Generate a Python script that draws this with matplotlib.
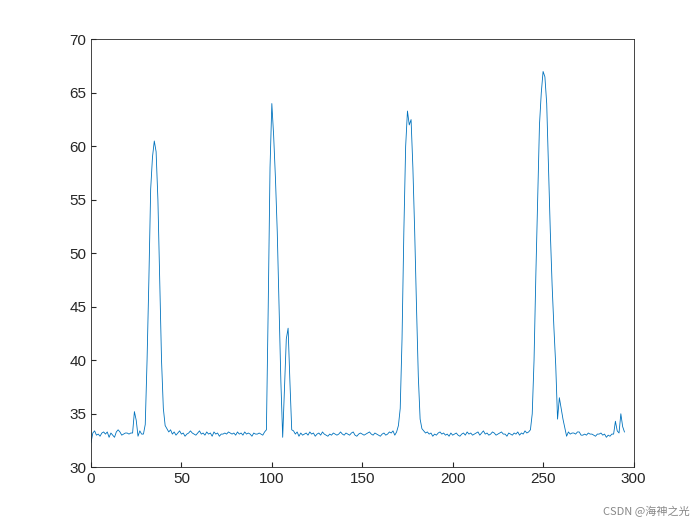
import matplotlib
matplotlib.use("Agg")
import matplotlib.pyplot as plt

seg_a = [32.3, 33.2, 33.4, 33.0, 33.1, 32.9, 33.2, 33.3, 33.1, 33.3, 32.8, 33.2, 33.0, 32.8, 33.3, 33.5, 33.3, 33.0, 33.1, 33.2, 33.2, 33.1, 33.2, 33.2, 35.2, 34.4, 32.9, 33.4, 33.1, 33.1]
peak1 = [34.0, 40.0, 47.5, 56.0, 59.0, 60.5, 59.5, 55.0, 47.5, 40.0, 35.5, 33.9]
seg_b = [33.6, 33.3, 33.5, 33.1, 33.3, 33.0, 33.2, 33.4, 33.1, 33.2, 32.9, 33.1, 33.2, 33.4, 33.2, 33.1, 33.0, 33.2, 33.4, 33.1, 33.2, 33.0, 33.3, 33.1, 33.2, 32.9, 33.3, 33.1, 33.2, 32.9, 33.1, 33.1, 33.2, 33.1, 33.3, 33.2, 33.1, 33.2, 33.0, 33.3, 33.1, 33.2, 33.0, 33.3, 33.1, 33.2, 33.1, 32.9, 33.2, 33.1, 33.1, 33.2, 33.1, 33.0, 33.3]
peak2 = [33.5, 45.0, 58.0, 64.0, 61.0, 57.0, 52.0, 45.0, 38.0, 32.8, 37.5, 42.0, 43.0, 38.0, 33.5]
seg_c = [33.4, 33.1, 33.3, 32.9, 33.2, 33.0, 33.1, 33.2, 33.0, 33.3, 33.1, 33.2, 32.9, 33.1, 33.2, 33.0, 33.3, 33.1, 33.0, 32.9, 33.1, 33.0, 33.2, 33.1, 33.0, 33.1, 33.3, 33.1, 33.0, 33.2, 33.1, 33.0, 33.2, 33.3, 33.0, 32.9, 33.1, 33.2, 33.1, 33.0, 33.1, 33.2, 33.3, 33.1, 33.0, 33.2, 33.1, 33.0, 32.9, 33.1, 33.2, 33.0, 33.1, 33.3, 33.2, 33.4, 33.0, 33.3]
peak3 = [33.9, 35.5, 42.0, 52.0, 60.0, 63.3, 62.0, 62.5, 58.0, 52.0, 45.0, 38.5, 34.5, 33.6]
seg_d = [33.4, 33.2, 33.3, 33.1, 33.2, 32.9, 33.1, 33.0, 33.2, 33.3, 33.1, 33.2, 33.0, 33.1, 32.9, 33.2, 33.0, 33.1, 33.2, 33.0, 32.9, 33.1, 33.2, 33.0, 33.3, 33.1, 33.2, 33.0, 33.1, 33.2, 33.3, 33.0, 33.2, 33.4, 33.1, 33.2, 33.0, 33.1, 33.3, 33.2, 33.0, 33.1, 33.2, 33.3, 33.1, 33.1, 32.9, 33.2, 33.1, 33.0, 33.2, 33.1, 33.3, 33.0, 33.2, 33.1, 33.4, 33.2, 33.3]
peak4 = [33.5, 35.0, 40.0, 48.0, 55.0, 62.0, 65.0, 67.0, 66.5, 64.0, 58.0, 52.0, 47.0, 43.0, 39.5, 34.5, 36.5, 35.5, 34.5, 33.7]
seg_e = [32.9, 33.3, 33.1, 33.2, 33.2, 33.1, 33.3, 33.3, 33.0, 33.0, 33.1, 33.0, 33.2, 33.1, 33.1, 33.0, 32.9, 33.1, 33.1, 33.2, 33.0, 33.1, 32.8, 33.0, 32.9, 33.1, 33.1, 34.3, 33.4, 33.2, 35.0, 33.8, 33.3]

y = seg_a + peak1 + seg_b + peak2 + seg_c + peak3 + seg_d + peak4 + seg_e
x = list(range(len(y)))

plt.rcParams['font.family'] = ['Liberation Sans', 'DejaVu Sans']
fig = plt.figure(figsize=(7, 5.25), dpi=100)
ax = fig.add_axes([0.13, 0.11, 0.775, 0.815])
ax.plot(x, y, color="#0072BD", linewidth=0.6)
ax.set_xlim(0, 300)
ax.set_ylim(30, 70)
ax.tick_params(direction="in", labelsize=11, top=False, right=False, colors="#262626")
for s in ax.spines.values():
    s.set_linewidth(0.6)
    s.set_color("#262626")
fig.text(0.985, 0.015, "CSDN @海神之光", ha="right", va="bottom", fontsize=8, color="#888888",
         family=["Noto Sans CJK SC", "DejaVu Sans"])
fig.savefig("out.png")
